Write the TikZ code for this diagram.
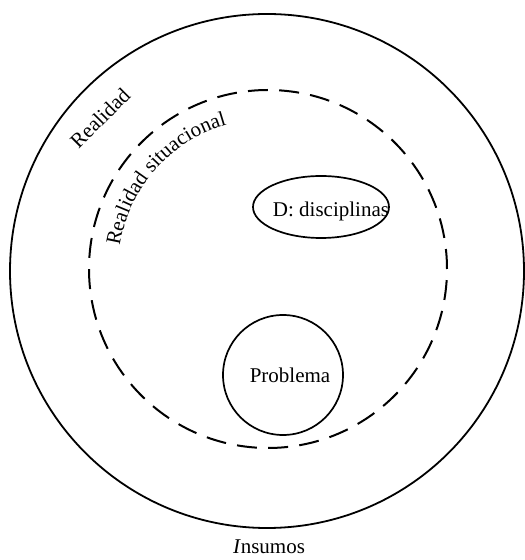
\documentclass[tikz,border=0pt]{standalone}
\usepackage{fontspec}
\setmainfont{Liberation Serif}
\usetikzlibrary{shapes.geometric,decorations.text}
\begin{document}
\begin{tikzpicture}[x=1pt,y=1pt,
  ring/.style={draw, circle, line width=1.8pt, inner sep=0pt},
  lbl/.style={font=\fontsize{21}{25}\selectfont, inner sep=0pt}]
\useasboundingbox (0,0) rectangle (525,560);
\node[ring, minimum size=514pt] (real) at (267,289) {};
\node[ring, line width=2pt, dash pattern=on 20pt off 11.25pt, minimum size=358pt] (sit) at (268,291) {};
\node[draw, ellipse, line width=1.7pt, minimum width=136pt, minimum height=62pt, inner sep=0pt] (disc) at (321,353) {};
\node[lbl] (disct) at (331,349) {D: disciplinas};
\node[ring, line width=1.7pt, minimum size=120pt] (prob) at (283,185) {};
\node[lbl] (probt) at (290,185) {Problema};
\node[lbl, rotate=45] (realt) at (100,442) {Realidad};
\node[lbl] (ins) at (269,13) {\textit{I}nsumos};
\path[decorate, decoration={text along path, text align=center, text={|\fontsize{21}{25}\selectfont|Realidad situacional}}] (sit.center) ++(173:150) arc[start angle=173, end angle=104, radius=150];
\end{tikzpicture}
\end{document}
